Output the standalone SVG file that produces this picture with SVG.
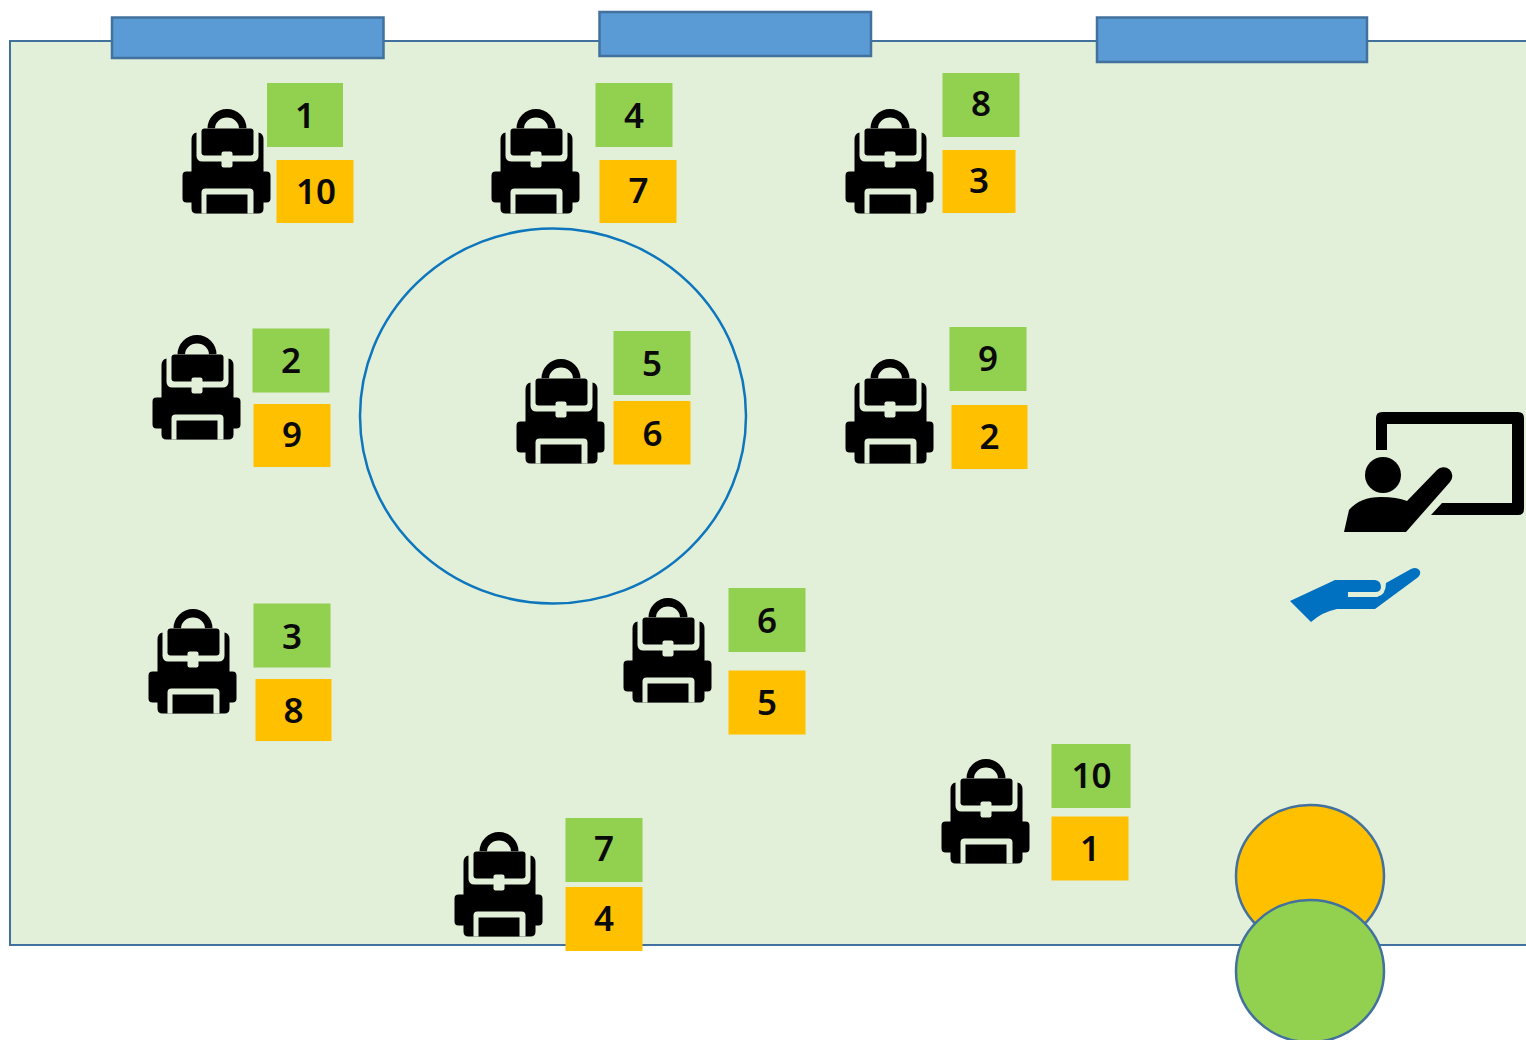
<svg xmlns="http://www.w3.org/2000/svg" xmlns:xlink="http://www.w3.org/1999/xlink" width="1526" height="1040" viewBox="0 0 1526 1040">
<style>
.room{fill:#e2efd9;stroke:#41719c;stroke-width:2}
.bar{fill:#5b9bd5;stroke:#41719c;stroke-width:2.5}
.g{fill:#92d050}.o{fill:#ffc000}
.w{fill:#e2efd9}
text{font-family:"Noto Sans","Liberation Sans",sans-serif;font-size:35px;font-weight:600;fill:#0a0a0a;text-anchor:middle}
</style>
<defs>
<g id="bag">
<path d="M25 20A19.500 19.500 0 0 1 64 20H56.500A12 11 0 0 0 32.500 20Z"/>
<path d="M9 31Q9 25 14 24H76Q81 25 81 31V63H84Q88 63 88 67V90Q88 94 84 94H81V100Q81 105 76 105H14Q9 105 9 100V94H4Q0 94 0 90V67Q0 63 4 63H9Z"/>
<path class="w" d="M14 20H76V47Q76 53 70 53H20Q14 53 14 47Z"/>
<path d="M19 23Q19 20 22 20H68Q71 20 71 23V44Q71 47 68 47H22Q19 47 19 44Z"/>
<rect class="w" x="39" y="43" width="11" height="16" rx="2"/>
<path class="w" d="M19 105V84Q19 80 23 80H67Q71 80 71 84V105Z"/>
<rect x="24" y="86" width="41" height="19"/>
</g>
</defs>
<g id="room">
<path class="room" d="M1530 41H10V945H1530"/>
</g>
<g id="board-1"><rect class="bar" x="112" y="17.500" width="271.500" height="40.500"/></g>
<g id="board-2"><rect class="bar" x="599.500" y="12" width="271.500" height="44"/></g>
<g id="board-3"><rect class="bar" x="1097" y="17.500" width="270" height="44.500"/></g>
<g id="center-circle"><ellipse cx="553" cy="416" rx="193" ry="187.500" fill="none" stroke="#0e76bc" stroke-width="2.500"/></g>
<g id="teacher">
<path d="M1376 450V418Q1376 412 1382 412H1518Q1524 412 1524 418V509Q1524 515 1518 515H1431L1442 503H1512V424H1387V450Z"/>
<circle cx="1383" cy="475" r="18"/>
<path d="M1344 532L1349 510Q1360 497 1381 497Q1397 497 1407 501L1437 470A8.500 8.500 0 0 1 1450 482L1406 532Z"/>
</g>
<g id="hand">
<path fill="#0070c0" d="M1290 601L1335 580H1375Q1381 581 1381 587Q1381 592 1375 592H1348V597H1377Q1386 595 1386 583L1411 569Q1417 566 1420 571Q1421 575 1417 578L1375 609H1337Q1322 612 1311 622Z"/>
</g>
<g id="pair-a"><ellipse cx="1310" cy="876" rx="74" ry="71" fill="#ffc000" stroke="#41719c" stroke-width="2.500"/></g>
<g id="pair-b"><ellipse cx="1310" cy="971" rx="74" ry="71" fill="#92d050" stroke="#41719c" stroke-width="2.500"/></g>

<g id="seat-1"><use xlink:href="#bag" x="182.500" y="108.500"/><rect class="g" x="267" y="83" width="76" height="64"/><text x="305" y="128">1</text><rect class="o" x="276.500" y="160" width="77" height="63"/><text x="316" y="204">10</text></g>
<g id="seat-4"><use xlink:href="#bag" x="491.500" y="108.500"/><rect class="g" x="595.500" y="83" width="77" height="64"/><text x="634" y="128">4</text><rect class="o" x="599.500" y="160" width="77" height="63"/><text x="638.500" y="203">7</text></g>
<g id="seat-8"><use xlink:href="#bag" x="845.500" y="108.500"/><rect class="g" x="942.500" y="73" width="77" height="64"/><text x="981" y="116">8</text><rect class="o" x="942.500" y="150" width="73" height="63"/><text x="979" y="193">3</text></g>
<g id="seat-2"><use xlink:href="#bag" x="152.500" y="334.500"/><rect class="g" x="252.500" y="328.500" width="77" height="64"/><text x="291" y="373">2</text><rect class="o" x="253.500" y="404" width="77" height="63"/><text x="292" y="447">9</text></g>
<g id="seat-5"><use xlink:href="#bag" x="516.500" y="358.500"/><rect class="g" x="613.500" y="331" width="77" height="64"/><text x="652" y="376">5</text><rect class="o" x="613.500" y="401" width="77" height="63.500"/><text x="652.500" y="446">6</text></g>
<g id="seat-9"><use xlink:href="#bag" x="845.500" y="358.500"/><rect class="g" x="949.500" y="327" width="77" height="64"/><text x="988" y="371">9</text><rect class="o" x="951.500" y="405" width="76" height="64"/><text x="989.500" y="449">2</text></g>
<g id="seat-3"><use xlink:href="#bag" x="148.500" y="608.500"/><rect class="g" x="253.500" y="603.500" width="77" height="64"/><text x="292" y="649">3</text><rect class="o" x="255.500" y="679" width="76" height="62"/><text x="293.500" y="723">8</text></g>
<g id="seat-6"><use xlink:href="#bag" x="623.500" y="597.500"/><rect class="g" x="728.500" y="588" width="77" height="64"/><text x="767" y="633">6</text><rect class="o" x="728.500" y="670.500" width="77" height="64"/><text x="767" y="715">5</text></g>
<g id="seat-7"><use xlink:href="#bag" x="454.500" y="831.500"/><rect class="g" x="565.500" y="818" width="77" height="64"/><text x="604" y="861">7</text><rect class="o" x="565.500" y="887" width="77" height="64"/><text x="604" y="931">4</text></g>
<g id="seat-10"><use xlink:href="#bag" x="941.500" y="758.500"/><rect class="g" x="1051.500" y="744" width="79" height="64"/><text x="1091.500" y="788">10</text><rect class="o" x="1051.500" y="816.500" width="77" height="64"/><text x="1090" y="861">1</text></g>
</svg>
